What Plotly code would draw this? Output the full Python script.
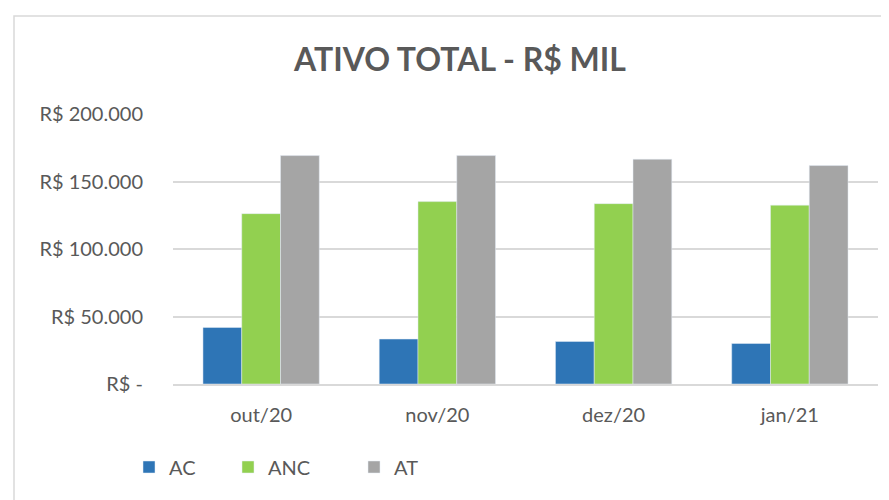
import plotly.graph_objects as go

categories = ["out/20", "nov/20", "dez/20", "jan/21"]
ac = [41900, 33300, 31500, 30000]
anc = [126200, 135100, 133600, 132500]
at = [169200, 169200, 166500, 161800]
tick_vals = [0, 50000, 100000, 150000, 200000]
tick_text = ["R$ -", "R$ 50.000", "R$ 100.000", "R$ 150.000", "R$ 200.000"]

# page has an 8px body margin, so the figure is sized/offset to compensate
OFF = 8
W, H = 889 - OFF, 500 - OFF
L, R, T, B = 173 - OFF, 11, 114 - OFF, 116
pw, ph = W - L - R, H - T - B

def px(xp):  # page x -> paper x
    return (xp - OFF - L) / pw

def py(yp):  # page y -> paper y
    return (T + ph - (yp - OFF)) / ph

text_color = "#595959"
font_family = "Lato, 'Open Sans', sans-serif"

fig = go.Figure()
fig.add_trace(go.Bar(name="AC", x=categories, y=ac, marker_color="#2E75B6", legend="legend", showlegend=True))
fig.add_trace(go.Bar(name="ANC", x=categories, y=anc, marker_color="#92D050", legend="legend2", showlegend=True))
fig.add_trace(go.Bar(name="AT", x=categories, y=at, marker_color="#A5A5A5", legend="legend3", showlegend=True))

leg_common = dict(orientation="h", xanchor="left", yanchor="middle",
                  font=dict(size=20, color=text_color), itemwidth=30, bgcolor="rgba(0,0,0,0)")

fig.update_layout(
    width=W, height=H,
    margin=dict(l=L, r=R, t=T, b=B),
    paper_bgcolor="white", plot_bgcolor="white",
    showlegend=True,
    barmode="group", bargap=0.34, bargroupgap=0,
    font=dict(family=font_family, color=text_color, size=20),
    title=dict(text="<b>ATIVO TOTAL - R$ MIL</b>", x=(460 - OFF) / W, xanchor="center",
               y=1 - (60 - OFF) / H, yanchor="middle",
               font=dict(size=32, color=text_color, family=font_family)),
    legend=dict(x=px(129), y=py(467), **leg_common),
    legend2=dict(x=px(228), y=py(467), **leg_common),
    legend3=dict(x=px(354), y=py(467), **leg_common),
    shapes=[dict(type="rect", xref="paper", yref="paper",
                 x0=px(14), x1=px(910), y0=py(520), y1=py(16),
                 line=dict(color="#D9D9D9", width=1.5), fillcolor="rgba(0,0,0,0)", layer="below")],
)
fig.update_yaxes(range=[0, 200000], tickvals=tick_vals, ticktext=tick_text, showgrid=True,
                 gridcolor="#D9D9D9", gridwidth=1.5, zeroline=False, showline=False,
                 ticks="", ticklabelstandoff=29, fixedrange=True)
fig.update_xaxes(showline=True, linecolor="#D9D9D9", linewidth=1.5, ticks="", ticklabelstandoff=12,
                 showgrid=False)

fig.write_html("out.html")
